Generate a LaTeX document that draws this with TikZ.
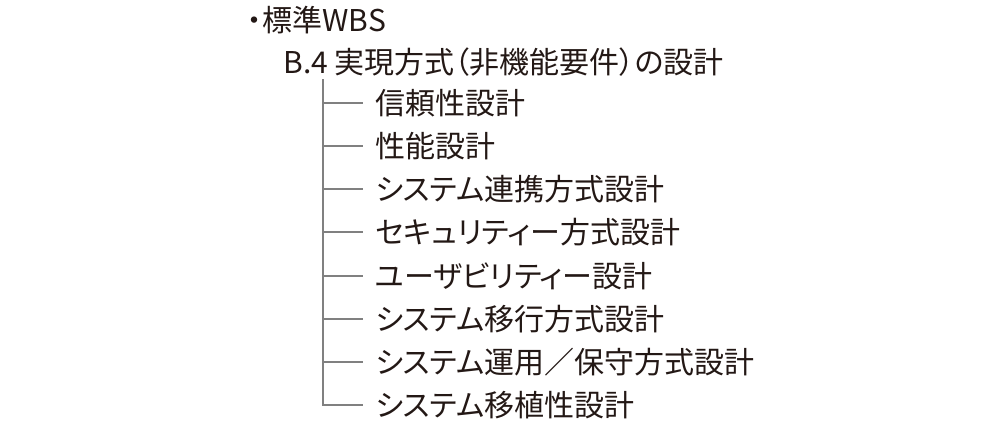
\documentclass[tikz,border=0pt]{standalone}
\usepackage{fontspec}
\setmainfont{Noto Sans CJK JP}[RawFeature=+palt]
\usepackage{tikz}
\usepackage{xcolor}
\definecolor{inkblack}{HTML}{231815}
\definecolor{treegray}{HTML}{808080}
\tikzset{
    wbs-item/.style = {anchor=west, inner xsep=6pt, inner ysep=0pt, text=inkblack, font=\fontsize{15pt}{18pt}\selectfont, text height=11.4pt, text depth=0pt},
    wbs-branch/.style = {draw=treegray, line width=0.65pt},
}
\begin{document}
\begin{tikzpicture}[x=0.5pt,y=-0.5pt]
\useasboundingbox (0,0) rectangle (1000,435);
\node[wbs-item] (std) at (235,20) {・標準WBS};
\node[wbs-item] (b4) at (271,62) {B.4 実現方式（非機能要件）の設計};
\coordinate (trunk) at (323,79);
\node[wbs-item] (reli) at (363,103) {信頼性設計};
\node[wbs-item] (perf) at (363,146) {性能設計};
\node[wbs-item] (link) at (363,189) {システム連携方式設計};
\node[wbs-item] (secu) at (363,232) {セキュリティー方式設計};
\node[wbs-item] (usab) at (363,276) {ユーザビリティー設計};
\node[wbs-item] (migr) at (363,319) {システム移行方式設計};
\node[wbs-item] (oper) at (363,362) {システム運用／保守方式設計};
\node[wbs-item] (port) at (363,405) {システム移植性設計};
\draw[wbs-branch] (trunk) |- (port.west);
\draw[wbs-branch] (trunk |- reli.west) -- (reli.west);
\draw[wbs-branch] (trunk |- perf.west) -- (perf.west);
\draw[wbs-branch] (trunk |- link.west) -- (link.west);
\draw[wbs-branch] (trunk |- secu.west) -- (secu.west);
\draw[wbs-branch] (trunk |- usab.west) -- (usab.west);
\draw[wbs-branch] (trunk |- migr.west) -- (migr.west);
\draw[wbs-branch] (trunk |- oper.west) -- (oper.west);
\end{tikzpicture}
\end{document}
